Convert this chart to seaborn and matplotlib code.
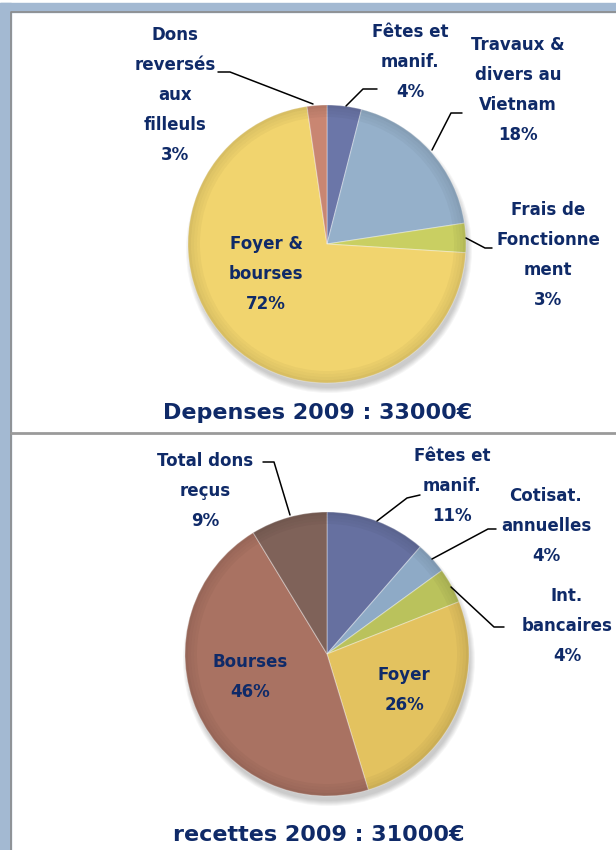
import matplotlib
matplotlib.use("Agg")
import matplotlib.pyplot as plt
import seaborn as sns
from matplotlib.patches import Rectangle, Ellipse

# DONNEES (parts, etiquettes arrondies)
dep_labels = ["Fêtes et\nmanif.", "Travaux &\ndivers au\nVietnam", "Frais de\nFonctionne\nment",
              "Foyer &\nbourses", "Dons\nreversés\naux\nfilleuls"]
dep_values = [4.0, 18.6, 3.4, 71.7, 2.3]
dep_pct = [4, 18, 3, 72, 3]
dep_colors = ["#6b76a8", "#95b0ca", "#c9cf62", "#f1d46e", "#c98672"]

rec_labels = ["Fêtes et\nmanif.", "Cotisat.\nannuelles", "Int.\nbancaires", "Foyer", "Bourses", "Total dons\nreçus"]
rec_values = [11.4, 3.6, 4.0, 26.3, 46.0, 8.7]
rec_pct = [11, 4, 4, 26, 46, 9]
rec_colors = ["#6670a0", "#8eaac6", "#bac25c", "#e3c25f", "#a97262", "#7f6259"]

dep_title = "Depenses 2009 : 33000€"
rec_title = "recettes 2009 : 31000€"

NAVY = "#0f2a68"
H = 850

sns.set_theme(style="white")
plt.rcParams['font.family'] = ['DejaVu Sans']

fig = plt.figure(figsize=(6.16, 8.5), dpi=100)
ax = fig.add_axes([0, 0, 1, 1])

# cadre bleu clair + separateur
ax.add_patch(Rectangle((0, 0), 11, H - 3, color="#a3b9d2", zorder=0))
ax.add_patch(Rectangle((0, H - 12), 616, 9, color="#a3b9d2", zorder=0))
ax.plot([11, 11, 616], [0, H - 12, H - 12], color="#8c8c8c", lw=1.2, zorder=1)
ax.plot([11, 616], [H - 433, H - 433], color="#9a9a9a", lw=2, zorder=1)


def draw_pie(values, colors, cx, cy, r):
    # ombre portee
    for k in range(6):
        ax.add_patch(Ellipse((cx + 2, H - cy - 6), 2 * r + 8 - k * 2, 2 * r + 8 - k * 2,
                             color="black", alpha=0.035, lw=0, zorder=2))
    ax.pie(values, colors=colors, startangle=90, counterclock=False,
           center=(cx, H - cy), radius=r, frame=True,
           wedgeprops=dict(edgecolor=(1, 1, 1, 0.35), linewidth=0.8, zorder=3))
    # effet biseau
    for k, a in enumerate([0.10, 0.07, 0.05, 0.03]):
        ax.pie([1], colors=["black"], radius=r - k * 3, center=(cx, H - cy),
               wedgeprops=dict(width=3, alpha=a, lw=0, zorder=4), frame=True)


draw_pie(dep_values, dep_colors, 327, 244, 139)
draw_pie(rec_values, rec_colors, 327, 654, 142)
ax.set_xlim(0, 616)
ax.set_ylim(0, H)
ax.set_aspect("equal")
ax.axis("off")

lab_kw = dict(color=NAVY, fontsize=12, fontweight="bold", ha="center", va="center",
              linespacing=1.85, zorder=6)

# etiquettes depenses
ax.text(175, H - 95, dep_labels[4] + f"\n{dep_pct[4]}%", **lab_kw)
ax.text(410, H - 62, dep_labels[0] + f"\n{dep_pct[0]}%", **lab_kw)
ax.text(518, H - 90, dep_labels[1] + f"\n{dep_pct[1]}%", **lab_kw)
ax.text(548, H - 255, dep_labels[2] + f"\n{dep_pct[2]}%", **lab_kw)
ax.text(266, H - 274, dep_labels[3] + f"\n{dep_pct[3]}%", **lab_kw)

# etiquettes recettes
ax.text(205, H - 491, rec_labels[5] + f"\n{rec_pct[5]}%", **lab_kw)
ax.text(452, H - 486, rec_labels[0] + f"\n{rec_pct[0]}%", **lab_kw)
ax.text(546, H - 526, rec_labels[1] + f"\n{rec_pct[1]}%", **lab_kw)
ax.text(567, H - 626, rec_labels[2] + f"\n{rec_pct[2]}%", **lab_kw)
ax.text(250, H - 677, rec_labels[4] + f"\n{rec_pct[4]}%", **lab_kw)
ax.text(404, H - 690, rec_labels[3] + f"\n{rec_pct[3]}%", **lab_kw)

# lignes de rappel
leaders = [
    [(218, 72), (230, 72), (313, 104)],
    [(377, 89), (363, 89), (346, 106)],
    [(462, 113), (451, 113), (432, 150)],
    [(466, 238), (485, 248), (492, 248)],
    [(263, 462), (274, 462), (290, 515)],
    [(420, 495), (407, 498), (377, 521)],
    [(496, 529), (488, 529), (432, 559)],
    [(451, 587), (494, 627), (504, 627)],
]
for pts in leaders:
    ax.plot([p[0] for p in pts], [H - p[1] for p in pts], color="black", lw=1.1, zorder=5)

title_kw = dict(color=NAVY, fontsize=16, fontweight="bold", ha="center", va="center", zorder=6)
ax.text(318, H - 413, dep_title, **title_kw)
ax.text(319, H - 835, rec_title, **title_kw)

fig.savefig("out.png", dpi=100)
